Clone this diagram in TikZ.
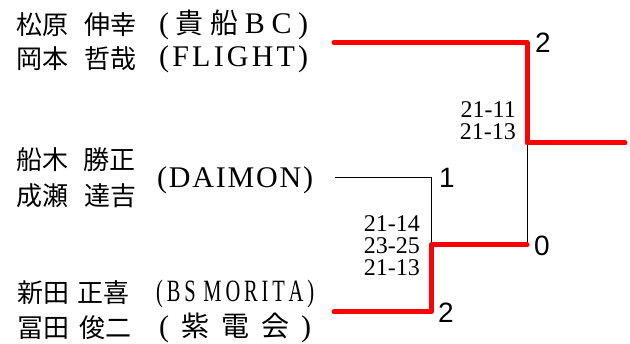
\documentclass[tikz,border=0pt]{standalone}
\usepackage{fontspec}
\setmainfont{Liberation Serif}
\newfontfamily\jp{Noto Sans CJK JP}
\newfontfamily\lserif{Liberation Serif}
\newfontfamily\cserif[FakeStretch=0.66]{Liberation Serif}
\newfontfamily\lsans{Liberation Sans}
\begin{document}
\begin{tikzpicture}[x=1pt,y=-1pt,
  namefont/.style={inner sep=0pt,anchor=west,font=\jp\fontsize{26}{26}\selectfont},
  teamfont/.style={inner sep=0pt,anchor=west,font=\fontsize{30}{30}\selectfont},
  scorefont/.style={inner sep=0pt,anchor=east,align=right,font=\lserif\fontsize{24}{22}\selectfont},
  resfont/.style={inner sep=0pt,anchor=west,font=\lsans\fontsize{28}{28}\selectfont},
  win/.style={draw=red,line width=5pt,line cap=round,line join=round},
  lose/.style={draw=black,line width=0.8pt}]
\useasboundingbox (0,0) rectangle (630,344);
% names
\node[namefont] (n1a) at (16,24.5) {松原};
\node[namefont] (n1b) at (84,24.5) {伸幸};
\node[namefont] (n2a) at (16,58.5) {岡本};
\node[namefont] (n2b) at (84,58.5) {哲哉};
\node[namefont] (n3a) at (16,159.5) {船木};
\node[namefont] (n3b) at (83,159.5) {勝正};
\node[namefont] (n4a) at (16,195.5) {成瀬};
\node[namefont] (n4b) at (84,195.5) {達吉};
\node[namefont] (n5a) at (17,293) {新田};
\node[namefont] (n5b) at (77,293) {正喜};
\node[namefont] (n6a) at (17,328) {冨田};
\node[namefont] (n6b) at (79,328) {俊二};
% teams
\node[teamfont] (t1) at (159,25) {\makebox[149pt][s]{\lserif(\hfill{\jp\fontsize{28}{28}\selectfont 貴\hfill 船}\hfill B\hfill C\hfill)}};
\node[teamfont] (t2) at (159,59) {\makebox[149pt][s]{\lserif(\hfill F\hfill L\hfill I\hfill G\hfill H\hfill T\hfill)}};
\node[teamfont] (t3) at (157,180) {\makebox[156pt][s]{\lserif(\hfill D\hfill A\hfill I\hfill M\hfill O\hfill N\hfill)}};
\node[teamfont] (t5) at (156,294) {\makebox[158pt][s]{\cserif\fontsize{31}{31}\selectfont(\hfill B\hfill S\hfill\hfill M\hfill O\hfill R\hfill I\hfill T\hfill A\hfill)}};
\node[teamfont] (t6) at (159,328) {\makebox[152pt][s]{\lserif(\hfill{\jp\fontsize{28}{28}\selectfont 紫\hfill 電\hfill 会}\hfill)}};
% bracket coordinates
\coordinate (a1) at (334,42.5);
\coordinate (a2) at (527,42.5);
\coordinate (f1) at (527,143);
\coordinate (f2) at (625,143);
\coordinate (b1) at (335,177);
\coordinate (b2) at (431,177);
\coordinate (m1) at (431,245);
\coordinate (m2) at (527,245);
\coordinate (c1) at (334,312);
\coordinate (c2) at (431,312);
% lines
\draw[lose] (b1) -- (b2) -- (m1);
\draw[lose] (f1) -- (m2);
\draw[win] (a1) -- (a2) -- (f1) -- (f2);
\draw[win] (c1) -- (c2) -- (m1) -- (m2);
% results
\node[resfont] (r1) at (535,43) {2};
\node[resfont] (r2) at (439,178) {1};
\node[resfont] (r3) at (534,246) {0};
\node[resfont] (r4) at (438,313) {2};
% scores
\node[scorefont] (s1) at (516,121) {21-11\\21-13};
\node[scorefont] (s2) at (420,246) {21-14\\23-25\\21-13};
\end{tikzpicture}
\end{document}
